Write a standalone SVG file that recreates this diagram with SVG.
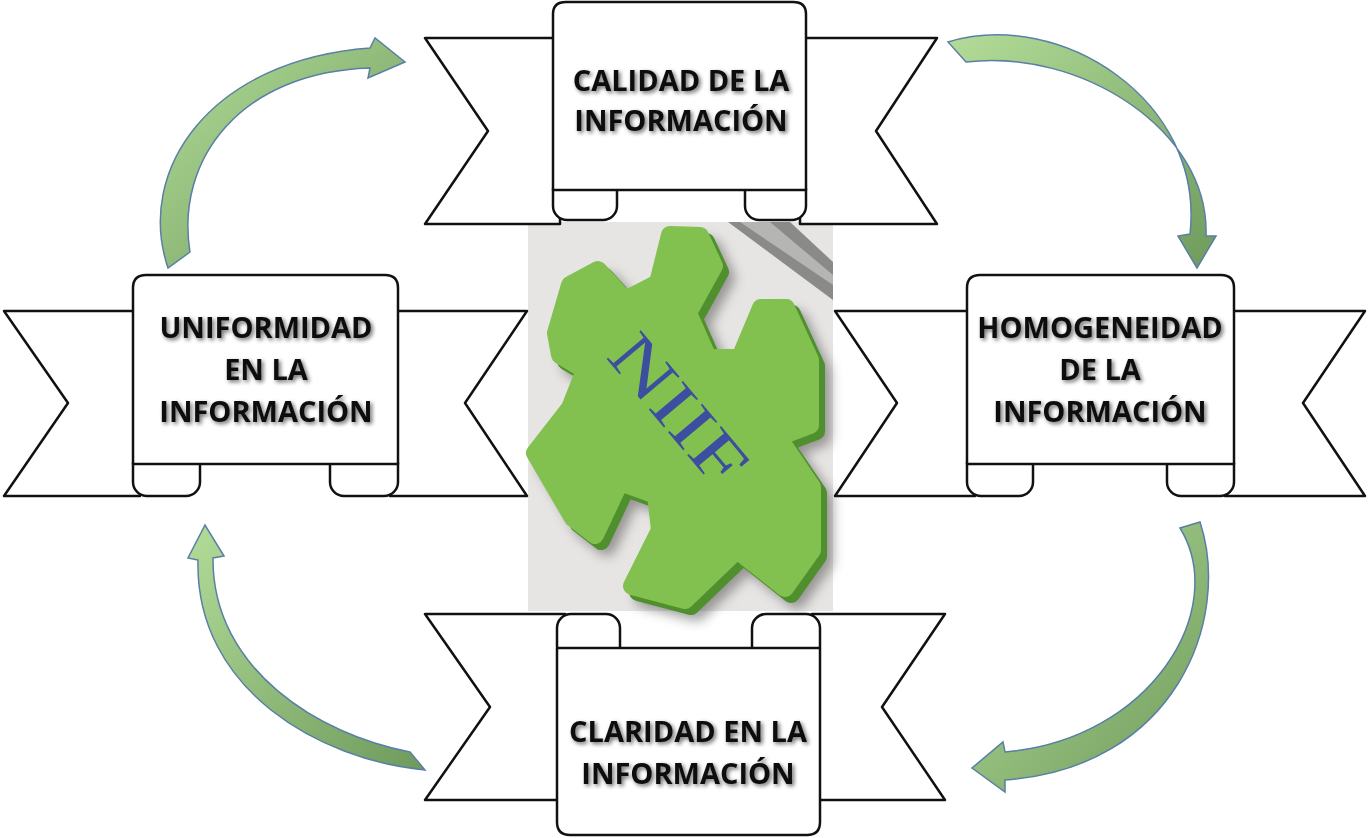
<svg xmlns="http://www.w3.org/2000/svg" width="1369" height="838" viewBox="0 0 1369 838">
<defs>
<style>
.rb{fill:#fff;stroke:#111;stroke-width:2.5;stroke-linejoin:round}
.lbl{font-family:"Open Sans","Liberation Sans",sans-serif;font-weight:700;font-size:29px;fill:#111;text-anchor:middle;filter:url(#sh)}
.arr{fill:url(#ag);stroke:#5a7fa6;stroke-width:1.5}
</style>
<filter id="sh" x="-10%" y="-30%" width="120%" height="160%"><feGaussianBlur in="SourceAlpha" stdDeviation="2"/><feOffset dx="1.5" dy="1.5"/><feComponentTransfer><feFuncA type="linear" slope="0.6"/></feComponentTransfer><feMerge><feMergeNode/><feMergeNode in="SourceGraphic"/></feMerge></filter>
<filter id="ps" x="-20%" y="-20%" width="140%" height="140%"><feGaussianBlur stdDeviation="6"/></filter>
<linearGradient id="ag" x1="0" y1="0" x2="1" y2="1"><stop offset="0" stop-color="#b3dc98"/><stop offset="1" stop-color="#6e9a5c"/></linearGradient>
<path id="pz" d="M556,333 L570,285 L598,270 L625,300 L658,283 L670,235 L700,236 L714,266 L688,313 L708,358 L740,358 L761,308 L786,308 L810,360 L810,425 L778,437 L812,487 L812,550 L785,588 L737,550 L685,600 L632,586 L660,530 L656,495 L620,482 L595,535 L573,518 L535,453 L570,408 L585,370 L560,355 Z" stroke-width="18" stroke-linejoin="round"/>
</defs>

<g id="connectors">
<path class="arr" d="M168,268 C135,170 210,60 370,48 L375,38 L405,62 L368,78 L370,68 C240,72 175,160 190,252 Z"/>
<path class="arr" d="M948,42 C1060,8 1205,100 1190,234 L1178,236 L1197,268 L1216,236 L1206,236 C1210,130 1080,48 966,62 Z"/>
<path class="arr" d="M1180,528 C1230,610 1150,740 1005,752 L1003,742 L972,768 L1005,792 L1005,780 C1175,768 1232,620 1200,522 Z"/>
<path class="arr" d="M425,770 C320,760 195,690 198,560 L188,558 L205,525 L224,556 L213,558 C212,670 320,735 410,752 Z"/>
</g>

<g id="center-image">
<rect x="528" y="222" width="305" height="389" fill="#e6e5e3"/>
<polygon points="728,222 790,222 833,262 833,300" fill="#8a8a88"/>
<polygon points="740,222 770,222 833,275 833,285" fill="#b5b5b3"/>
<use href="#pz" fill="#555" stroke="#555" opacity="0.55" filter="url(#ps)" transform="translate(12,12)"/>
<use href="#pz" fill="#4f8f2e" stroke="#4f8f2e" transform="translate(6,6)"/>
<use href="#pz" fill="#82c04f" stroke="#82c04f"/>
<text x="678" y="432" transform="rotate(50 678 410)" font-family="Liberation Serif,serif" font-size="68" fill="#3b4ea0" text-anchor="middle" textLength="175" lengthAdjust="spacingAndGlyphs">NIIF</text>
</g>

<g id="node-top">
<polygon class="rb" points="425,38 560,38 560,224 425,224 488,131"/>
<polygon class="rb" points="800,38 937,38 876,131 937,224 800,224"/>
<rect class="rb" x="553" y="176" width="64" height="44" rx="14"/>
<rect class="rb" x="745" y="176" width="61" height="44" rx="14"/>
<path class="rb" d="M553,190 L553,14 Q553,2 566,2 L793,2 Q806,2 806,14 L806,190 Z"/>
<text class="lbl" x="681" y="91">CALIDAD DE LA</text>
<text class="lbl" x="681" y="131">INFORMACIÓN</text>
</g>

<g id="node-left">
<polygon class="rb" points="4,311 140,311 140,496 4,496 68,403"/>
<polygon class="rb" points="390,311 527,311 465,403 527,496 390,496"/>
<rect class="rb" x="133" y="450" width="67" height="46" rx="14"/>
<rect class="rb" x="330" y="450" width="68" height="46" rx="14"/>
<path class="rb" d="M133,464 L133,288 Q133,275 146,275 L385,275 Q398,275 398,288 L398,464 Z"/>
<text class="lbl" x="266" y="338">UNIFORMIDAD</text>
<text class="lbl" x="266" y="380">EN LA</text>
<text class="lbl" x="266" y="422">INFORMACIÓN</text>
</g>

<g id="node-right">
<polygon class="rb" points="835,311 975,311 975,496 835,496 897,403"/>
<polygon class="rb" points="1225,311 1365,311 1303,403 1365,496 1225,496"/>
<rect class="rb" x="967" y="450" width="66" height="46" rx="14"/>
<rect class="rb" x="1167" y="450" width="67" height="46" rx="14"/>
<path class="rb" d="M967,464 L967,288 Q967,275 980,275 L1221,275 Q1234,275 1234,288 L1234,464 Z"/>
<text class="lbl" x="1100" y="338">HOMOGENEIDAD</text>
<text class="lbl" x="1100" y="380">DE LA</text>
<text class="lbl" x="1100" y="422">INFORMACIÓN</text>
</g>

<g id="node-bottom">
<polygon class="rb" points="425,614 565,614 565,800 425,800 490,707"/>
<polygon class="rb" points="812,614 945,614 882,707 945,800 812,800"/>
<rect class="rb" x="557" y="614" width="63" height="46" rx="14"/>
<rect class="rb" x="752" y="614" width="68" height="46" rx="14"/>
<path class="rb" d="M557,648 L557,822 Q557,835 570,835 L807,835 Q820,835 820,822 L820,648 Z"/>
<text class="lbl" x="688" y="742">CLARIDAD EN LA</text>
<text class="lbl" x="688" y="784">INFORMACIÓN</text>
</g>
</svg>
